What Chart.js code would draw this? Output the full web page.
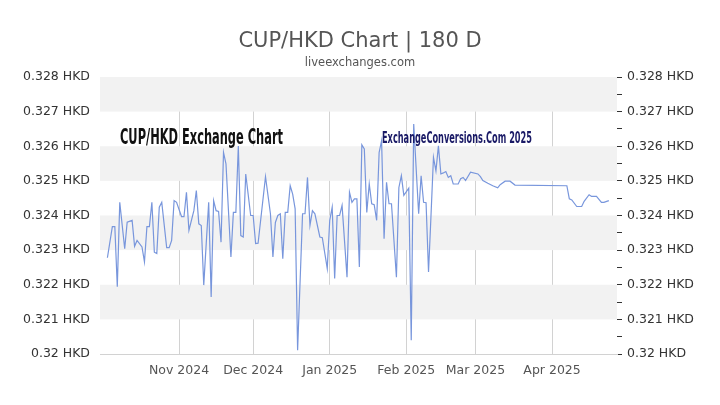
<!DOCTYPE html>
<html>
<head>
<meta charset="utf-8">
<script src="https://cdn.jsdelivr.net/npm/chart.js@4.4.1/dist/chart.umd.min.js"></script>
<style>
  html, body { margin: 0; padding: 0; background: #fff; }
  #wrap { width: 720px; height: 405px; }
</style>
</head>
<body>
<div id="wrap"><canvas id="chart" width="720" height="405"></canvas></div>
<script>
const dates = [
  '2024-10-03','2024-10-05','2024-10-06','2024-10-07','2024-10-08','2024-10-10','2024-10-11','2024-10-13',
  '2024-10-14','2024-10-15','2024-10-17','2024-10-18','2024-10-19','2024-10-20','2024-10-21','2024-10-22',
  '2024-10-23','2024-10-24','2024-10-25','2024-10-27','2024-10-28','2024-10-29','2024-10-30','2024-10-31',
  '2024-11-02','2024-11-03','2024-11-04','2024-11-05','2024-11-07','2024-11-08','2024-11-09','2024-11-10',
  '2024-11-11','2024-11-13','2024-11-14','2024-11-15','2024-11-16','2024-11-17','2024-11-18','2024-11-19',
  '2024-11-20','2024-11-22','2024-11-23','2024-11-24','2024-11-25','2024-11-26','2024-11-27','2024-11-28',
  '2024-11-30','2024-12-01','2024-12-02','2024-12-03','2024-12-06','2024-12-08','2024-12-09','2024-12-10',
  '2024-12-11','2024-12-12','2024-12-13','2024-12-14','2024-12-15','2024-12-16','2024-12-17','2024-12-18',
  '2024-12-19','2024-12-21','2024-12-22','2024-12-23','2024-12-24','2024-12-25','2024-12-26','2024-12-28',
  '2024-12-29','2024-12-31','2025-01-01','2025-01-02','2025-01-03','2025-01-04','2025-01-05','2025-01-06',
  '2025-01-08','2025-01-09','2025-01-10','2025-01-11','2025-01-12','2025-01-13','2025-01-14','2025-01-15',
  '2025-01-16','2025-01-17','2025-01-18','2025-01-19','2025-01-20','2025-01-21','2025-01-22','2025-01-23',
  '2025-01-24','2025-01-25','2025-01-26','2025-01-28','2025-01-29','2025-01-30','2025-01-31','2025-02-02',
  '2025-02-03','2025-02-04','2025-02-06','2025-02-07','2025-02-08','2025-02-09','2025-02-10','2025-02-11',
  '2025-02-12','2025-02-13','2025-02-14','2025-02-15','2025-02-16','2025-02-17','2025-02-18','2025-02-19',
  '2025-02-20','2025-02-22','2025-02-23','2025-02-24','2025-02-25','2025-02-27','2025-03-02','2025-03-03',
  '2025-03-04','2025-03-06','2025-03-08','2025-03-10','2025-03-11','2025-03-13','2025-03-15','2025-03-17',
  '2025-04-07','2025-04-08','2025-04-09','2025-04-11','2025-04-13','2025-04-14','2025-04-16','2025-04-17',
  '2025-04-19','2025-04-21','2025-04-22','2025-04-24'
];

const rates = [
  0.32278,0.32368,0.32368,0.32194,0.32438,0.32304,0.32381,0.32386,
  0.32311,0.32328,0.32309,0.32266,0.32368,0.32368,0.32438,0.32294,
  0.32290,0.32424,0.32438,0.32307,0.32307,0.32328,0.32443,0.32438,
  0.32397,0.32397,0.32467,0.32357,0.32414,0.32472,0.32376,0.32371,
  0.32199,0.32438,0.32165,0.32443,0.32414,0.32412,0.32323,0.32582,
  0.32549,0.32280,0.32409,0.32409,0.32601,0.32342,0.32338,0.32520,
  0.32400,0.32400,0.32319,0.32320,0.32512,0.32405,0.32280,0.32380,
  0.32400,0.32405,0.32275,0.32409,0.32409,0.32486,0.32462,0.32419,
  0.32011,0.32405,0.32405,0.32510,0.32371,0.32414,0.32405,0.32338,
  0.32336,0.32247,0.32386,0.32424,0.32218,0.32400,0.32400,0.32429,
  0.32222,0.32467,0.32438,0.32448,0.32448,0.32251,0.32604,0.32592,
  0.32409,0.32491,0.32434,0.32431,0.32386,0.32582,0.32616,0.32333,
  0.32496,0.32434,0.32434,0.32222,0.32481,0.32515,0.32458,0.32479,
  0.32040,0.32664,0.32405,0.32515,0.32438,0.32437,0.32237,0.32400,
  0.32568,0.32529,0.32601,0.32520,0.32523,0.32527,0.32510,0.32515,
  0.32491,0.32491,0.32506,0.32510,0.32501,0.32525,0.32520,0.32512,
  0.32501,0.32493,0.32486,0.32480,0.32489,0.32499,0.32499,0.32488,
  0.32486,0.32448,0.32445,0.32426,0.32426,0.32441,0.32460,0.32455,
  0.32455,0.32438,0.32438,0.32443
];

const monthStarts = ['2024-11-01','2024-12-01','2025-01-01','2025-02-01','2025-03-01','2025-04-01'];
const monthLabels = ['Nov 2024','Dec 2024','Jan 2025','Feb 2025','Mar 2025','Apr 2025'];
const rangeStart = '2024-09-30';
const rangeEnd = '2025-04-27';
const yMin = 0.320;
const yMax = 0.328;

// day number counted from 1 Oct 2024
const dayOf = (s) => {
    const [y, m, d] = s.split('-').map(Number);
    return (Date.UTC(y, m - 1, d) - Date.UTC(2024, 9, 1)) / 86400000;
};

const points = dates.map((d, i) => ({ x: dayOf(d), y: rates[i] }));
const tickDays = monthStarts.map(dayOf);

const isWhole = (v) => Math.abs(v * 1000 - Math.round(v * 1000)) < 1e-6;
const hkd = (v) => isWhole(v) ? parseFloat(v.toFixed(3)) + ' HKD' : '';

const bandsPlugin = {
    id: 'bands',
    beforeDatasetsDraw(chart) {
        const { ctx, chartArea, scales } = chart;
        ctx.save();
        ctx.fillStyle = '#f2f2f2';
        for (let k = 0; k < 8; k += 2) {
            const top = scales.y.getPixelForValue(yMax - k * 0.001);
            const bot = scales.y.getPixelForValue(yMax - (k + 1) * 0.001);
            ctx.fillRect(chartArea.left, top, chartArea.right - chartArea.left, bot - top);
        }
        ctx.restore();
    },
    afterDatasetsDraw(chart) {
        const { ctx, chartArea } = chart;
        const drawSquished = (text, font, color, x, y, width) => {
            ctx.save();
            ctx.font = font;
            ctx.fillStyle = color;
            ctx.textBaseline = 'alphabetic';
            const w = ctx.measureText(text).width;
            ctx.translate(x, y);
            ctx.scale(width / w, 1);
            ctx.fillText(text, 0, 0);
            ctx.restore();
        };
        drawSquished('CUP/HKD Exchange Chart', 'bold 22px "Liberation Sans Narrow", "DejaVu Sans Condensed", sans-serif',
            '#111', chartArea.left + 20, chartArea.top + 67, 163);
        drawSquished('ExchangeConversions.Com 2025', 'bold 16px "Liberation Sans Narrow", "DejaVu Sans Condensed", sans-serif',
            '#1a1a66', chartArea.left + 282, chartArea.top + 66, 150);
    }
};

new Chart(document.getElementById('chart'), {
    type: 'line',
    data: {
        datasets: [{
            data: points,
            borderColor: '#7896dc',
            borderWidth: 1.2,
            pointRadius: 0,
            tension: 0,
            fill: false,
        }],
    },
    options: {
        responsive: false,
        animation: false,
        layout: { padding: 0 },
        plugins: {
            legend: { display: false },
            tooltip: { enabled: false },
            title: {
                display: true,
                text: 'CUP/HKD Chart | 180 D',
                color: '#555',
                font: { family: 'DejaVu Sans', size: 21, weight: 'normal' },
                padding: { top: 29, bottom: 2 },
            },
            subtitle: {
                display: true,
                text: 'liveexchanges.com',
                color: '#555',
                font: { family: 'DejaVu Sans', size: 11.5 },
                padding: { top: 0, bottom: 7 },
            },
        },
        scales: {
            x: {
                type: 'linear',
                min: dayOf(rangeStart),
                max: dayOf(rangeEnd) + 0.3,
                afterBuildTicks: (scale) => { scale.ticks = tickDays.map((v) => ({ value: v })); },
                afterFit: (scale) => { scale.height = 51; },
                ticks: {
                    autoSkip: false,
                    maxRotation: 0,
                    padding: 9,
                    color: '#555',
                    font: { family: 'DejaVu Sans', size: 12.5 },
                    callback: (v) => monthLabels[tickDays.indexOf(v)] || '',
                },
                grid: { color: '#d2d2d2', drawTicks: false },
                border: { color: '#d2d2d2' },
            },
            y: {
                position: 'left',
                min: yMin,
                max: yMax,
                afterFit: (scale) => { scale.width = 100; },
                ticks: {
                    stepSize: 0.001,
                    padding: 10,
                    color: '#333',
                    font: { family: 'DejaVu Sans', size: 12.5 },
                    callback: hkd,
                },
                grid: { display: false, drawTicks: false },
                border: { display: false },
            },
            y2: {
                position: 'right',
                min: yMin,
                max: yMax,
                afterFit: (scale) => { scale.width = 103; },
                ticks: {
                    stepSize: 0.0005,
                    autoSkip: false,
                    padding: 5,
                    color: '#333',
                    font: { family: 'DejaVu Sans', size: 12.5 },
                    callback: hkd,
                },
                grid: { drawOnChartArea: false, drawTicks: true, tickLength: 5, color: '#333' },
                border: { display: false },
            },
        },
    },
    plugins: [bandsPlugin],
});
</script>
</body>
</html>
